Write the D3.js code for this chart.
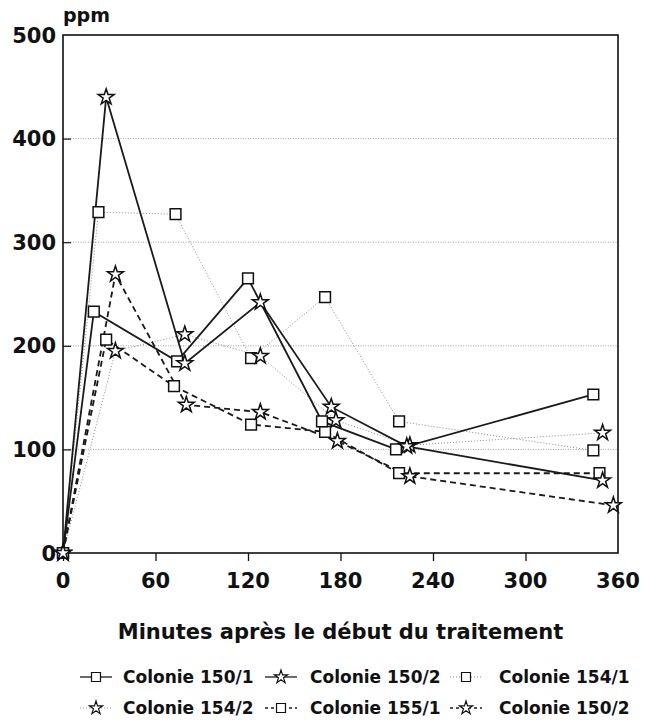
<!DOCTYPE html>
<html>
<head>
<meta charset="utf-8">
<script src="https://cdn.jsdelivr.net/npm/d3@7"></script>
<style>
  body { margin: 0; background: #fff; }
  text { font-family: "DejaVu Sans", sans-serif; font-weight: bold; fill: #111; }
</style>
</head>
<body>
<div id="chart"></div>
<script>
const xTicks = [0, 60, 120, 180, 240, 300, 360];
const yTicks = [0, 100, 200, 300, 400, 500];

// minutes / ppm, one pair of arrays per column
const t150_1 = [0, 20, 74, 120, 168, 216, 344];
const v150_1 = [0, 233, 185, 265, 127, 100, 153];
const t150_2 = [0, 28, 79, 128, 174, 223, 350];
const v150_2 = [0, 440, 183, 242, 141, 103, 70];
const t154_1 = [0, 23, 73, 122, 170, 218, 344];
const v154_1 = [0, 329, 327, 188, 247, 127, 99];
const t154_2 = [0, 34, 79, 128, 177, 225, 350];
const v154_2 = [0, 195, 211, 190, 128, 104, 116];
const t155_1 = [0, 28, 72, 122, 170, 218, 348];
const v155_1 = [0, 206, 161, 124, 117, 77, 77];
const t150_2b = [0, 34, 80, 128, 178, 225, 357];
const v150_2b = [0, 269, 143, 136, 108, 74, 46];

const names = ["Colonie 150/1", "Colonie 150/2", "Colonie 154/1", "Colonie 154/2", "Colonie 155/1", "Colonie 150/2"];

const styles = {
  solid:  {stroke: "#1a1a1a", width: 1.8, dash: null},
  dotted: {stroke: "#8a8a8a", width: 1, dash: "1,2"},
  dashed: {stroke: "#1a1a1a", width: 1.8, dash: "6,4"}
};

const series = [
  {name: names[0], t: t150_1, v: v150_1, sym: d3.symbolSquare, style: "solid"},
  {name: names[1], t: t150_2, v: v150_2, sym: d3.symbolStar, style: "solid"},
  {name: names[2], t: t154_1, v: v154_1, sym: d3.symbolSquare, style: "dotted"},
  {name: names[3], t: t154_2, v: v154_2, sym: d3.symbolStar, style: "dotted"},
  {name: names[4], t: t155_1, v: v155_1, sym: d3.symbolSquare, style: "dashed"},
  {name: names[5], t: t150_2b, v: v150_2b, sym: d3.symbolStar, style: "dashed"}
];

const W = 647, H = 720;
const margin = {top: 35, right: 29, bottom: 167, left: 63};

const svg = d3.select("#chart").append("svg").attr("width", W).attr("height", H);

const x = d3.scaleLinear().domain([0, 360]).range([margin.left, W - margin.right]);
const y = d3.scaleLinear().domain([0, 500]).range([H - margin.bottom, margin.top]);

const symSize = s => s === d3.symbolStar ? 78 : 115;

// gridlines
svg.append("g").selectAll("line").data(yTicks.filter(d => d > 0 && d < 500)).join("line")
  .attr("x1", x(0)).attr("x2", x(360))
  .attr("y1", d => y(d)).attr("y2", d => y(d))
  .attr("stroke", "#999").attr("stroke-width", 0.9).attr("stroke-dasharray", "1,1.5");

// frame
svg.append("rect")
  .attr("x", x(0)).attr("y", y(500))
  .attr("width", x(360) - x(0)).attr("height", y(0) - y(500))
  .attr("fill", "none").attr("stroke", "#111").attr("stroke-width", 1.6);

// axes
const xAxis = d3.axisBottom(x).tickValues(xTicks.slice(0, -1)).tickSize(8).tickFormat("");
svg.append("g").attr("transform", `translate(0,${y(0)})`).call(xAxis)
  .call(g => g.select(".domain").remove())
  .call(g => g.selectAll("line").attr("stroke", "#111").attr("stroke-width", 1.3));

const yAxis = d3.axisRight(y).tickValues(yTicks.slice(1, -1)).tickSize(8).tickFormat("");
svg.append("g").attr("transform", `translate(${x(0)},0)`).call(yAxis)
  .call(g => g.select(".domain").remove())
  .call(g => g.selectAll("line").attr("stroke", "#111").attr("stroke-width", 1.2));

svg.append("g").selectAll("text").data(xTicks).join("text")
  .attr("x", d => x(d)).attr("y", y(0) + 35)
  .attr("text-anchor", "middle").attr("font-size", 21)
  .text(d => d);

svg.append("g").selectAll("text").data(yTicks).join("text")
  .attr("x", x(0) - 7).attr("y", d => y(d) + 7.5)
  .attr("text-anchor", "end").attr("font-size", 21)
  .text(d => d);

svg.append("text").attr("x", x(0)).attr("y", 22).attr("font-size", 19).text("ppm");

svg.append("text").attr("x", (x(0) + x(360)) / 2).attr("y", 639)
  .attr("text-anchor", "middle").attr("font-size", 21)
  .text("Minutes après le début du traitement");

// lines
const line = d3.line().x(d => x(d[0])).y(d => y(d[1]));
const drawOrder = [2, 3, 4, 5, 0, 1];
drawOrder.forEach(i => {
  const s = series[i], st = styles[s.style];
  svg.append("path")
    .datum(d3.zip(s.t, s.v))
    .attr("d", line)
    .attr("fill", "none")
    .attr("stroke", st.stroke)
    .attr("stroke-width", st.width)
    .attr("stroke-dasharray", st.dash);
});

// markers
drawOrder.forEach(i => {
  const s = series[i];
  svg.append("g").selectAll("path").data(d3.zip(s.t, s.v)).join("path")
    .attr("transform", d => `translate(${x(d[0])},${y(d[1])})`)
    .attr("d", d3.symbol(s.sym, symSize(s.sym)))
    .attr("fill", "#fff")
    .attr("stroke", "#111")
    .attr("stroke-width", 1.5);
});

// legend
const legSym = [96, 281, 466];
const legText = [123, 310, 499];
const legY = [677, 708];
series.forEach((s, i) => {
  const col = i % 3, row = Math.floor(i / 3);
  const st = styles[s.style];
  const g = svg.append("g").attr("transform", `translate(0,${legY[row]})`);
  g.append("line").attr("x1", legSym[col] - 16).attr("x2", legSym[col] + 16)
    .attr("y1", 0).attr("y2", 0)
    .attr("stroke", st.stroke).attr("stroke-width", st.width === 1 ? 1 : 1.3)
    .attr("stroke-dasharray", s.style === "dashed" ? "3,3" : st.dash);
  g.append("path").attr("transform", `translate(${legSym[col]},0)`)
    .attr("d", d3.symbol(s.sym, symSize(s.sym) * 0.7))
    .attr("fill", "#fff").attr("stroke", "#111").attr("stroke-width", 1.2);
  g.append("text").attr("x", legText[col]).attr("y", 6).attr("font-size", 17).text(s.name);
});
</script>
</body>
</html>
